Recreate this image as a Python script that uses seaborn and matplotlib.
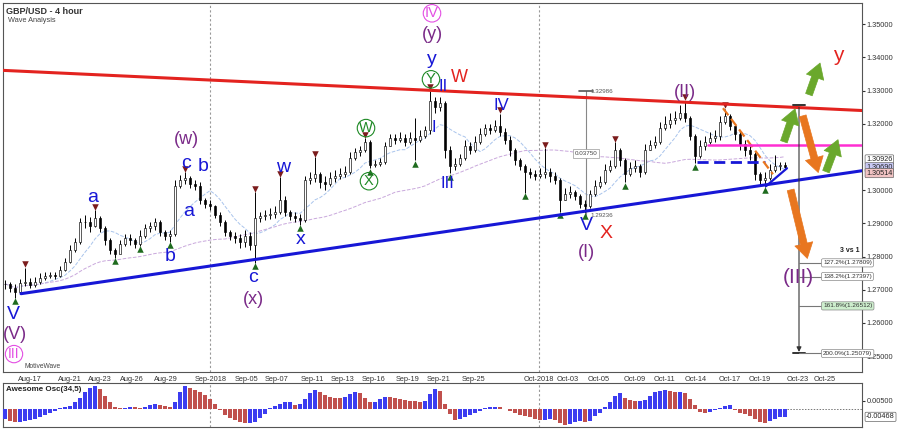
import numpy as np
import pandas as pd
import matplotlib
matplotlib.use("Agg")
from matplotlib import pyplot as plt
import seaborn as sns

# GBP/USD candles (one bar per ~half day)
close = [1.2718, 1.2706, 1.2694, 1.2721, 1.2724, 1.2715, 1.2724, 1.2736, 1.2742, 1.2745,
         1.2742, 1.2760, 1.2784, 1.2820, 1.2844, 1.2904, 1.2904, 1.2892, 1.2916, 1.2886,
         1.2850, 1.2820, 1.2808, 1.2838, 1.2856, 1.2850, 1.2838, 1.2862, 1.2886, 1.2892,
         1.2904, 1.2874, 1.2862, 1.2868, 1.3012, 1.3030, 1.3036, 1.3018, 1.3012, 1.2970,
         1.2958, 1.2952, 1.2925, 1.2904, 1.2874, 1.2862, 1.2856, 1.2844, 1.2862, 1.2835,
         1.2916, 1.2922, 1.2925, 1.2928, 1.2934, 1.2970, 1.2934, 1.2922, 1.2916, 1.2910,
         1.3030, 1.3036, 1.3048, 1.3024, 1.3018, 1.3036, 1.3042, 1.3048, 1.3054, 1.3096,
         1.3114, 1.3120, 1.3144, 1.3075, 1.3078, 1.3084, 1.3132, 1.3156, 1.3150, 1.3156,
         1.3144, 1.3156, 1.3150, 1.3162, 1.3180, 1.3270, 1.3252, 1.3264, 1.3120, 1.3072,
         1.3078, 1.3096, 1.3132, 1.3120, 1.3144, 1.3168, 1.3186, 1.3180, 1.3192, 1.3174,
         1.3150, 1.3120, 1.3090, 1.3072, 1.3054, 1.3048, 1.3042, 1.3048, 1.3054, 1.3042,
         1.3030, 1.2970, 1.2988, 1.2994, 1.2982, 1.2958, 1.2952, 1.2988, 1.3012, 1.3024,
         1.3060, 1.3072, 1.3120, 1.3090, 1.3048, 1.3066, 1.3072, 1.3054, 1.3120, 1.3135,
         1.3144, 1.3186, 1.3198, 1.3210, 1.3216, 1.3234, 1.3216, 1.3162, 1.3102, 1.3132,
         1.3144, 1.3156, 1.3162, 1.3204, 1.3222, 1.3192, 1.3168, 1.3138, 1.3120, 1.3108,
         1.3048, 1.3030, 1.3036, 1.3060, 1.3072, 1.3075, 1.3069]
high = [1.2730, 1.2724, 1.2718, 1.2733, 1.2766, 1.2736, 1.2739, 1.2751, 1.2754, 1.2754,
        1.2754, 1.2772, 1.2796, 1.2835, 1.2856, 1.2916, 1.2925, 1.2919, 1.2940, 1.2922,
        1.2892, 1.2856, 1.2826, 1.2850, 1.2868, 1.2868, 1.2856, 1.2880, 1.2898, 1.2904,
        1.2916, 1.2910, 1.2880, 1.2880, 1.3030, 1.3045, 1.3054, 1.3042, 1.3030, 1.3024,
        1.2976, 1.2970, 1.2955, 1.2934, 1.2910, 1.2880, 1.2874, 1.2868, 1.2880, 1.2874,
        1.2994, 1.2934, 1.2940, 1.2946, 1.2952, 1.3039, 1.2982, 1.2940, 1.2934, 1.2928,
        1.3042, 1.3054, 1.3099, 1.3054, 1.3042, 1.3054, 1.3060, 1.3066, 1.3072, 1.3114,
        1.3126, 1.3132, 1.3156, 1.3150, 1.3090, 1.3096, 1.3144, 1.3168, 1.3168, 1.3174,
        1.3168, 1.3174, 1.3216, 1.3180, 1.3192, 1.3300, 1.3282, 1.3282, 1.3270, 1.3132,
        1.3096, 1.3108, 1.3150, 1.3144, 1.3162, 1.3186, 1.3198, 1.3198, 1.3210, 1.3231,
        1.3186, 1.3162, 1.3126, 1.3096, 1.3078, 1.3066, 1.3060, 1.3066, 1.3126, 1.3066,
        1.3054, 1.3036, 1.3006, 1.3012, 1.3000, 1.2988, 1.2970, 1.3000, 1.3030, 1.3042,
        1.3078, 1.3090, 1.3144, 1.3126, 1.3096, 1.3084, 1.3090, 1.3078, 1.3138, 1.3150,
        1.3162, 1.3204, 1.3222, 1.3234, 1.3240, 1.3258, 1.3270, 1.3222, 1.3168, 1.3150,
        1.3162, 1.3174, 1.3180, 1.3222, 1.3246, 1.3228, 1.3198, 1.3180, 1.3150, 1.3132,
        1.3114, 1.3054, 1.3054, 1.3078, 1.3105, 1.3084, 1.3084]
low = [1.2703, 1.2694, 1.2676, 1.2691, 1.2712, 1.2706, 1.2709, 1.2718, 1.2730, 1.2736,
       1.2733, 1.2739, 1.2757, 1.2781, 1.2814, 1.2838, 1.2886, 1.2874, 1.2889, 1.2874,
       1.2835, 1.2808, 1.2796, 1.2814, 1.2832, 1.2835, 1.2826, 1.2832, 1.2856, 1.2874,
       1.2880, 1.2862, 1.2850, 1.2844, 1.2862, 1.3006, 1.3018, 1.3006, 1.3000, 1.2958,
       1.2946, 1.2940, 1.2916, 1.2892, 1.2862, 1.2850, 1.2841, 1.2826, 1.2829, 1.2820,
       1.2781, 1.2904, 1.2910, 1.2913, 1.2916, 1.2928, 1.2922, 1.2910, 1.2904, 1.2895,
       1.2904, 1.3018, 1.3024, 1.3006, 1.3000, 1.3012, 1.3024, 1.3033, 1.3039, 1.3048,
       1.3090, 1.3102, 1.3114, 1.3066, 1.3069, 1.3072, 1.3078, 1.3132, 1.3138, 1.3144,
       1.3132, 1.3138, 1.3090, 1.3144, 1.3156, 1.3168, 1.3234, 1.3240, 1.3096, 1.3051,
       1.3060, 1.3072, 1.3090, 1.3108, 1.3114, 1.3138, 1.3162, 1.3168, 1.3174, 1.3162,
       1.3138, 1.3102, 1.3075, 1.3060, 1.2991, 1.3036, 1.3030, 1.3036, 1.3036, 1.3024,
       1.3018, 1.2934, 1.2970, 1.2976, 1.2970, 1.2946, 1.2931, 1.2946, 1.2982, 1.3006,
       1.3018, 1.3054, 1.3066, 1.3072, 1.3024, 1.3042, 1.3054, 1.3039, 1.3048, 1.3120,
       1.3126, 1.3138, 1.3180, 1.3186, 1.3198, 1.3210, 1.3204, 1.3150, 1.3081, 1.3096,
       1.3120, 1.3138, 1.3144, 1.3150, 1.3198, 1.3180, 1.3150, 1.3120, 1.3102, 1.3090,
       1.3030, 1.3015, 1.3009, 1.3030, 1.3054, 1.3060, 1.3066]

# Awesome Oscillator (34,5), same bars
ao = [-0.0060, -0.0072, -0.0076, -0.0076, -0.0072, -0.0066, -0.0058, -0.0048, -0.0038, -0.0026,
      -0.0012, 0.0004, 0.0012, 0.0018, 0.0040, 0.0068, 0.0104, 0.0128, 0.0136, 0.0118,
      0.0080, 0.0040, 0.0012, 0.0004, 0.0008, 0.0014, 0.0010, 0.0004, 0.0012, 0.0024,
      0.0030, 0.0026, 0.0018, 0.0012, 0.0040, 0.0100, 0.0136, 0.0128, 0.0116, 0.0104,
      0.0084, 0.0060, 0.0030, -0.0008, -0.0036, -0.0052, -0.0066, -0.0078, -0.0086, -0.0086,
      -0.0080, -0.0056, -0.0028, 0.0008, 0.0016, 0.0030, 0.0040, 0.0042, 0.0024, 0.0030,
      0.0060, 0.0094, 0.0114, 0.0100, 0.0084, 0.0074, 0.0068, 0.0064, 0.0070, 0.0088,
      0.0104, 0.0096, 0.0066, 0.0040, 0.0044, 0.0060, 0.0072, 0.0070, 0.0066, 0.0060,
      0.0056, 0.0050, 0.0046, 0.0040, 0.0048, 0.0090, 0.0122, 0.0108, 0.0030, -0.0030,
      -0.0066, -0.0062, -0.0050, -0.0038, -0.0024, -0.0012, 0.0008, 0.0014, 0.0014, 0.0010,
      0.0002, -0.0010, -0.0022, -0.0034, -0.0044, -0.0050, -0.0058, -0.0064, -0.0064, -0.0060,
      -0.0066, -0.0082, -0.0096, -0.0088, -0.0078, -0.0074, -0.0080, -0.0070, -0.0044, -0.0022,
      0.0010, 0.0040, 0.0080, 0.0094, 0.0066, 0.0052, 0.0050, 0.0050, 0.0056, 0.0080,
      0.0100, 0.0108, 0.0112, 0.0108, 0.0104, 0.0104, 0.0096, 0.0060, 0.0022, -0.0016,
      -0.0026, -0.0016, -0.0008, 0.0004, 0.0018, 0.0024, -0.0006, -0.0022, -0.0030, -0.0044,
      -0.0062, -0.0076, -0.0084, -0.0072, -0.0060, -0.0050, -0.0047]
ao_last_label = "-0.00468"

tick_pos = [5, 13, 19, 25.3, 32.1, 41.1, 48.3, 54.3, 61.4, 67.6, 73.8, 80.6,
            86.8, 93.6, 106.8, 112.6, 118.8, 126, 131.8, 138.2, 145, 151, 158.6, 164]
tick_labels = ["Aug-17", "Aug-21", "Aug-23", "Aug-26", "Aug-29", "Sep-2018", "Sep-05",
               "Sep-07", "Sep-11", "Sep-13", "Sep-16", "Sep-19", "Sep-21", "Sep-25",
               "Oct-2018", "Oct-03", "Oct-05", "Oct-09", "Oct-11", "Oct-14", "Oct-17",
               "Oct-19", "Oct-23", "Oct-25"]
month_starts = [41.1, 106.8]

swing_highs = [4, 18, 36, 50, 55, 62, 72, 85, 99, 108, 122, 136, 144]
swing_lows = [2, 22, 27, 33, 50, 59, 73, 82, 89, 104, 111, 116, 124, 138, 152]

# trend lines as (bar, price) end points
red_x, red_y = [-0.4, 171.4], [1.3361, 1.3240]
blue_x, blue_y = [3.2, 171.4], [1.2688, 1.30585]
neck_x, neck_y = [138.4, 152.0], [1.3084, 1.3084]
wedge_x, wedge_y = [152.2, 156.4], [1.3012, 1.3066]
orange_x, orange_y = [143.6, 153.6], [1.3247, 1.3048]
pink_x, pink_y = [140.6, 171.4], [1.3136, 1.3136]

fib_names = ["127.2%(1.27809)", "138.2%(1.27397)", "161.8%(1.26512)", "200.0%(1.25079)"]
fib_prices = [1.27809, 1.27397, 1.26512, 1.25079]

price_boxes = ["1.30926", "1.30690", "1.30514"]
price_box_vals = [1.30926, 1.30690, 1.30514]
price_box_fill = ["white", "#c9c9f5", "#f2c4c4"]

BLUE, PURPLE, GREEN, RED, PINK = "#1717d6", "#7a2a88", "#1f8a26", "#e3231f", "#e34fe3"
wave_labels = [
    ("V", 1.6, 1.2624, BLUE, 14, False), ("(V)", 2.0, 1.2564, PURPLE, 13, False),
    ("III", 1.8, 1.2506, PINK, 10, True),
    ("a", 17.6, 1.2979, BLUE, 14, False), ("b", 33.0, 1.2801, BLUE, 14, False),
    ("a", 36.8, 1.2937, BLUE, 14, False), ("c", 36.2, 1.3081, BLUE, 14, False),
    ("b", 39.6, 1.3072, BLUE, 14, False), ("(w)", 36.2, 1.3154, PURPLE, 13, False),
    ("c", 49.6, 1.2738, BLUE, 14, False), ("(x)", 49.6, 1.2669, PURPLE, 13, False),
    ("w", 55.6, 1.3069, BLUE, 14, False), ("x", 59.2, 1.2850, BLUE, 14, False),
    ("W", 72.2, 1.3187, GREEN, 10.5, True), ("X", 72.8, 1.3027, GREEN, 10.5, True),
    ("IV", 85.4, 1.3533, PINK, 10.5, True), ("(y)", 85.4, 1.3470, PURPLE, 13, False),
    ("y", 85.4, 1.3394, BLUE, 14, False), ("Y", 85.2, 1.3334, GREEN, 10.5, True),
    ("II", 87.6, 1.3313, BLUE, 12, False), ("W", 90.8, 1.3340, RED, 13, False),
    ("I", 85.8, 1.3190, BLUE, 12, False), ("III", 88.4, 1.3021, BLUE, 12, False),
    ("IV", 99.2, 1.3256, BLUE, 12, False), ("V", 116.2, 1.2892, BLUE, 14, False),
    ("X", 120.2, 1.2868, RED, 14, False), ("(I)", 116.2, 1.2813, PURPLE, 13, False),
    ("(II)", 136.0, 1.3295, PURPLE, 13, False), ("y", 166.6, 1.3406, RED, 15, False),
    ("(III)", 158.6, 1.2738, PURPLE, 15, False),
]

# projected scenario arrows: (start bar, start price, end bar, end price, colour)
arrows = [
    (155.6, 1.3138, 158.2, 1.3253, "#6aa82c"),
    (160.6, 1.3280, 163.2, 1.3391, "#6aa82c"),
    (164.0, 1.3048, 166.8, 1.3160, "#6aa82c"),
    (159.4, 1.3232, 162.8, 1.3045, "#e8761f"),
    (157.0, 1.3009, 160.6, 1.2786, "#e8761f"),
]

sns.set_style("white")
plt.rcParams["font.family"] = ["Liberation Sans", "DejaVu Sans"]

df = pd.DataFrame({"bar": np.arange(len(close)), "close": close, "high": high, "low": low})
df["open"] = df["close"].shift(1).fillna(df["close"])
df["ma_fast"] = df["close"].rolling(8, min_periods=1).mean()
df["ma_slow"] = df["close"].rolling(45, min_periods=1).mean()

fig = plt.figure(figsize=(9, 4.3), dpi=100)
ax = fig.add_axes([3 / 900, 1 - 372 / 430, 859 / 900, 369 / 430])
ao_ax = fig.add_axes([3 / 900, 1 - 427 / 430, 859 / 900, 44 / 430])
xlim = (-0.4, 171.4)

# moving averages
sns.lineplot(data=df, x="bar", y="ma_fast", ax=ax, color="#a9c4ec", lw=0.7, linestyle="--")
sns.lineplot(data=df, x="bar", y="ma_slow", ax=ax, color="#c9a8dc", lw=0.7, linestyle="--")

# candles
ax.vlines(df["bar"], df["low"], df["high"], color="black", lw=0.7, zorder=3)
up = df["close"] >= df["open"]
ax.bar(df["bar"][up], (df["close"] - df["open"])[up], bottom=df["open"][up], width=0.5,
       color="white", edgecolor="black", lw=0.45, zorder=4)
ax.bar(df["bar"][~up], (df["open"] - df["close"])[~up], bottom=df["close"][~up], width=0.5,
       color="black", edgecolor="black", lw=0.45, zorder=4)

# swing markers
sns.scatterplot(x=swing_highs, y=df["high"][swing_highs] + 0.0010, marker="v", color="#7b1c1c",
                s=22, linewidth=0, ax=ax, zorder=5)
sns.scatterplot(x=swing_lows, y=df["low"][swing_lows] - 0.0010, marker="^", color="#1e6b1e",
                s=22, linewidth=0, ax=ax, zorder=5)

# trend lines
ax.plot(red_x, red_y, color="#e3231f", lw=2.2, zorder=6)
ax.plot(blue_x, blue_y, color="#1717d6", lw=2.2, zorder=6)
ax.plot(neck_x, neck_y, color="#1717d6", lw=2.0, dashes=(4, 2), zorder=6)
ax.plot(wedge_x, wedge_y, color="#1717d6", lw=1.6, zorder=6)
ax.plot(orange_x, orange_y, color="#e8761f", lw=1.6, dashes=(4, 2), zorder=6)
ax.plot(pink_x, pink_y, color="#ff2ed2", lw=1.8, zorder=6)

for m in month_starts:
    ax.axvline(m, color="#999999", lw=0.8, ls=(0, (2, 2)), zorder=1)
    ao_ax.axvline(m, color="#999999", lw=0.8, ls=(0, (2, 2)), zorder=1)

# measured swing
ax.plot([116.2, 116.2], [1.32986, 1.29236], color="#888888", lw=0.8, zorder=2)
ax.plot([114.8, 117.6], [1.32986, 1.32986], color="#555555", lw=1.2, zorder=2)
ax.text(117.0, 1.32986, "1.32986", fontsize=4.5, color="#555555", va="center")
ax.text(117.0, 1.29236, "1.29236", fontsize=4.5, color="#555555", va="center")
ax.text(116.2, 1.3111, "0.03750", fontsize=4.5, color="#444444", ha="center", va="center",
        bbox=dict(boxstyle="square,pad=0.3", fc="white", ec="#999999", lw=0.5), zorder=7)

# projection ruler with fib targets
ax.annotate("", xy=(158.8, 1.2504), xytext=(158.8, 1.3258),
            arrowprops=dict(arrowstyle="-|>", color="#333333", lw=0.8, mutation_scale=7), zorder=6)
ax.plot([157.6, 160.0], [1.3258, 1.3258], color="#333333", lw=1.4, zorder=6)
ax.plot([157.6, 160.0], [1.25079, 1.25079], color="#333333", lw=1.4, zorder=6)
for name, p in zip(fib_names, fib_prices):
    ax.plot([158.8, 163.4], [p, p], color="#777777", lw=0.8, zorder=6)
    fc = "#cdeecd" if name.startswith("161") else "white"
    ax.text(163.6, p, name, fontsize=4.6, color="#333333", va="center",
            bbox=dict(boxstyle="round,pad=0.25", fc=fc, ec="#888888", lw=0.5), zorder=7)
ax.text(171.0, 1.2817, "3 vs 1", fontsize=5, weight="bold", color="#222222", ha="right", va="center")

for x0, y0, x1, y1, c in arrows:
    ax.annotate("", xy=(x1, y1), xytext=(x0, y0),
                arrowprops=dict(arrowstyle="simple,head_length=0.9,head_width=1.1,tail_width=0.42",
                                fc=c, ec=c, lw=0.5, mutation_scale=12), zorder=8)

for text, x, y, c, size, circled in wave_labels:
    bbox = dict(boxstyle="circle,pad=0.12", fc="none", ec=c, lw=0.8) if circled else None
    ax.text(x, y, text, color=c, fontsize=size, ha="center", va="center", bbox=bbox, zorder=9)

ax.text(0.004, 0.988, "GBP/USD - 4 hour", transform=ax.transAxes, fontsize=6.5, weight="bold",
        color="#333333", va="top")
ax.text(0.006, 0.962, "Wave Analysis", transform=ax.transAxes, fontsize=5.3, color="#444444", va="top")
ax.text(0.025, 0.016, "MotiveWave", transform=ax.transAxes, fontsize=4.8, color="#444444", va="center")

# right price axis
ax.set_xlim(xlim)
ax.set_ylim(1.2452, 1.3564)
yt = [1.25, 1.26, 1.27, 1.28, 1.29, 1.30, 1.32, 1.33, 1.34, 1.35]
ax.set_yticks(yt)
ax.set_yticklabels([f"{v:.5f}" for v in yt])
ax.yaxis.tick_right()
ax.set_xticks(tick_pos)
ax.set_xticklabels(tick_labels)
ax.tick_params(axis="both", labelsize=5.3, length=2, pad=1.5, colors="#333333", direction="out")
ax.tick_params(axis="x", pad=1)
ax.set_xlabel(None)
ax.set_ylabel(None)
for p, t, fc in zip(price_box_vals, price_boxes, price_box_fill):
    ax.annotate(t, xy=(1.0, p), xycoords=ax.get_yaxis_transform(), xytext=(3, 0),
                textcoords="offset points", fontsize=5.2, va="center", color="#222222",
                bbox=dict(boxstyle="round,pad=0.15", fc=fc, ec="#666666", lw=0.5),
                annotation_clip=False)

# Awesome oscillator panel
ao_colors = ["#3c3cf0" if i == 0 or ao[i] >= ao[i - 1] else "#c0504d" for i in range(len(ao))]
ao_ax.bar(df["bar"], ao, width=0.62, color=ao_colors, lw=0, zorder=3)
ao_ax.plot([len(ao) - 0.5, xlim[1]], [0, 0], color="#777777", lw=0.7, ls=(0, (1.5, 1.5)))
ao_ax.set_xlim(xlim)
ao_ax.set_ylim(-0.0108, 0.0156)
ao_ax.set_xticks([])
ao_ax.set_yticks([0.005])
ao_ax.set_yticklabels(["0.00500"])
ao_ax.yaxis.tick_right()
ao_ax.tick_params(axis="y", labelsize=5.3, length=2, pad=1.5, colors="#333333")
ao_ax.text(0.004, 0.86, "Awesome Osc(34,5)", transform=ao_ax.transAxes, fontsize=5.8,
           weight="bold", color="#222222", va="center")
ao_ax.annotate(ao_last_label, xy=(1.0, ao[-1]),
               xycoords=ao_ax.get_yaxis_transform(), xytext=(3, 0), textcoords="offset points",
               fontsize=5.2, va="center", color="#222222",
               bbox=dict(boxstyle="round,pad=0.15", fc="white", ec="#666666", lw=0.5),
               annotation_clip=False)

for a in (ax, ao_ax):
    for s in a.spines.values():
        s.set_color("#555555")
        s.set_linewidth(0.8)

fig.savefig("out.png", dpi=100)
